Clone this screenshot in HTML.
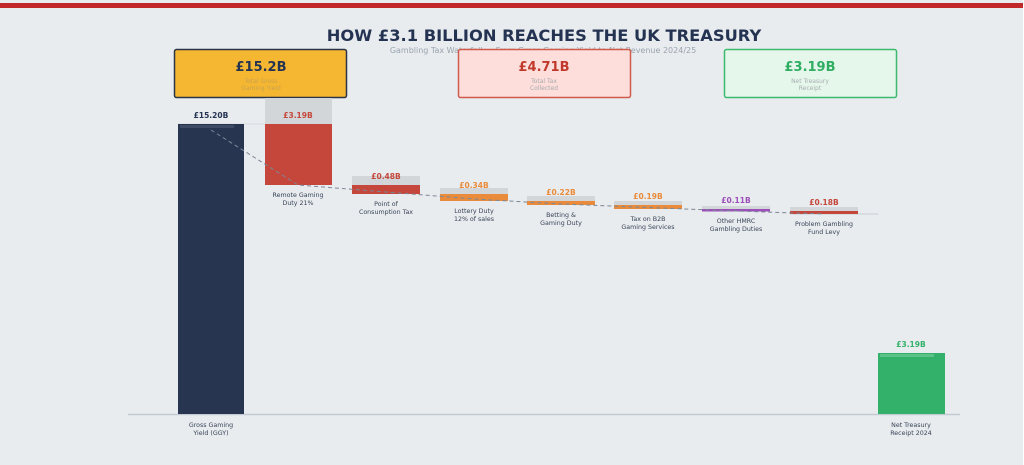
<!DOCTYPE html>
<html><head><meta charset="utf-8"><style>
html,body{margin:0;padding:0;background:#fff;}
svg{display:block;font-family:"DejaVu Sans","Liberation Sans",sans-serif;}
</style></head><body>
<svg width="1024" height="465" viewBox="0 0 1024 465" xmlns="http://www.w3.org/2000/svg">
<rect x="0" y="0" width="1023" height="465" fill="#e8ecef"/>
<rect x="0" y="3" width="1023" height="5" fill="#c0282a"/>
<text x="544" y="41" text-anchor="middle" font-size="16.3" font-weight="bold" fill="#253352">HOW £3.1 BILLION REACHES THE UK TREASURY</text>
<text x="543" y="53" text-anchor="middle" font-size="8" fill="#9aa3ae">Gambling Tax Waterfall — From Gross Gaming Yield to Net Revenue 2024/25</text>

<rect x="174.5" y="49.5" width="172" height="48" rx="2" fill="#f5b731" stroke="#2b3447" stroke-width="1.5"/>
<text x="261" y="71" text-anchor="middle" font-size="13" font-weight="bold" fill="#253352">£15.2B</text>
<text x="261" y="83" text-anchor="middle" font-size="6" fill="#c9a24d">Total Gross</text>
<text x="261" y="90" text-anchor="middle" font-size="6" fill="#c9a24d">Gaming Yield</text>

<rect x="458.5" y="49.5" width="172" height="48" rx="2" fill="#fddedb" stroke="#d05a4c" stroke-width="1.5"/>
<text x="544" y="71" text-anchor="middle" font-size="13" font-weight="bold" fill="#c0392b">£4.71B</text>
<text x="544" y="83" text-anchor="middle" font-size="6" fill="#a9a9ad">Total Tax</text>
<text x="544" y="90" text-anchor="middle" font-size="6" fill="#a9a9ad">Collected</text>

<rect x="724.5" y="49.5" width="172" height="48" rx="2" fill="#e5f6ea" stroke="#3dba6e" stroke-width="1.5"/>
<text x="810" y="71" text-anchor="middle" font-size="13" font-weight="bold" fill="#2fae62">£3.19B</text>
<text x="810" y="83" text-anchor="middle" font-size="6" fill="#a9b0b5">Net Treasury</text>
<text x="810" y="90" text-anchor="middle" font-size="6" fill="#a9b0b5">Receipt</text>

<line x1="128" y1="414.5" x2="960" y2="414.5" stroke="#c4cad1" stroke-width="1.5"/>
<line x1="178" y1="124" x2="332" y2="124" stroke="#d8dde2" stroke-width="1"/>
<line x1="790" y1="214" x2="878" y2="214" stroke="#c8ced4" stroke-width="1"/>

<rect x="178" y="124" width="66" height="290" fill="#283550"/>
<rect x="180" y="125" width="54" height="3" fill="#3f4b64"/>
<text x="211" y="118" text-anchor="middle" font-size="7.5" font-weight="bold" fill="#253352">£15.20B</text>

<rect x="265" y="98" width="67" height="26" fill="#d3d6d9"/>
<rect x="265" y="124" width="67" height="61" fill="#c5463a"/>
<text x="298" y="118" text-anchor="middle" font-size="7.5" font-weight="bold" fill="#c5463a">£3.19B</text>

<rect x="352" y="176" width="68" height="9" fill="#d3d6d9"/>
<rect x="352" y="185" width="68" height="9" fill="#c5463a"/>
<text x="386" y="179" text-anchor="middle" font-size="7.5" font-weight="bold" fill="#c5463a">£0.48B</text>

<rect x="440" y="188" width="68" height="6" fill="#d3d6d9"/>
<rect x="440" y="194" width="68" height="7" fill="#e98b3a"/>
<text x="474" y="188" text-anchor="middle" font-size="7.5" font-weight="bold" fill="#e98b3a">£0.34B</text>

<rect x="527" y="196" width="68" height="5" fill="#d3d6d9"/>
<rect x="527" y="201" width="68" height="4" fill="#e98b3a"/>
<text x="561" y="195" text-anchor="middle" font-size="7.5" font-weight="bold" fill="#e98b3a">£0.22B</text>

<rect x="614" y="201" width="68" height="4" fill="#d3d6d9"/>
<rect x="614" y="205" width="68" height="4" fill="#e98b3a"/>
<text x="648" y="199" text-anchor="middle" font-size="7.5" font-weight="bold" fill="#e98b3a">£0.19B</text>

<rect x="702" y="206" width="68" height="3" fill="#d3d6d9"/>
<rect x="702" y="209" width="68" height="2.5" fill="#9b4fb8"/>
<text x="736" y="203" text-anchor="middle" font-size="7.5" font-weight="bold" fill="#9b4fb8">£0.11B</text>

<rect x="790" y="207" width="68" height="4" fill="#d3d6d9"/>
<rect x="790" y="211" width="68" height="3" fill="#c5463a"/>
<text x="824" y="205" text-anchor="middle" font-size="7.5" font-weight="bold" fill="#c5463a">£0.18B</text>

<rect x="878" y="353" width="67" height="61" fill="#33b06a"/>
<rect x="880" y="354" width="54" height="3" fill="#5cc288"/>
<text x="911" y="347" text-anchor="middle" font-size="7.5" font-weight="bold" fill="#33b06a">£3.19B</text>

<polyline points="211,130 298,185 386,192 474,199 561,204 648,207.5 736,211 824,214" fill="none" stroke="#7d8796" stroke-width="1" stroke-dasharray="4,3"/>

<g font-size="6.3" fill="#3a4458" text-anchor="middle">
<text x="211" y="427">Gross Gaming</text><text x="211" y="435">Yield (GGY)</text>
<text x="298" y="197">Remote Gaming</text><text x="298" y="205">Duty 21%</text>
<text x="386" y="206">Point of</text><text x="386" y="214">Consumption Tax</text>
<text x="474" y="213">Lottery Duty</text><text x="474" y="221">12% of sales</text>
<text x="561" y="217">Betting &amp;</text><text x="561" y="225">Gaming Duty</text>
<text x="648" y="221">Tax on B2B</text><text x="648" y="229">Gaming Services</text>
<text x="736" y="223">Other HMRC</text><text x="736" y="231">Gambling Duties</text>
<text x="824" y="226">Problem Gambling</text><text x="824" y="234">Fund Levy</text>
<text x="911" y="427">Net Treasury</text><text x="911" y="435">Receipt 2024</text>
</g>
</svg>
</body></html>
